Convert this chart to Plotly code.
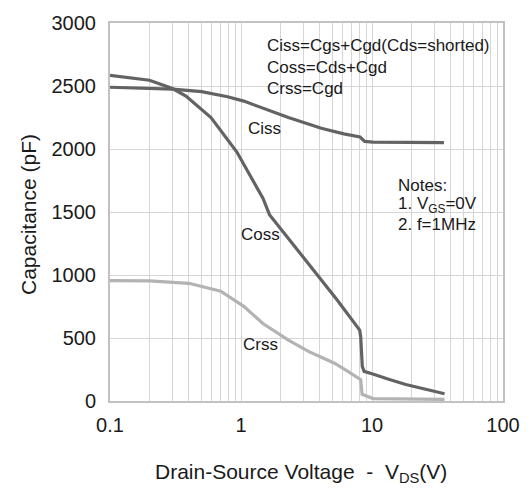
import plotly.graph_objects as go

# ---- data ----
vds_ciss = [0.1, 0.2, 0.3, 0.5, 0.79, 1.05, 1.65, 2.3, 4.1, 6.1, 8.1, 8.8, 10.2, 35.4]
ciss = [2490, 2480, 2475, 2455, 2415, 2380, 2305, 2250, 2165, 2120, 2095, 2060, 2055, 2050]

vds_coss = [0.1, 0.2, 0.3, 0.38, 0.59, 0.93, 1.47, 1.65, 5.46, 8.05, 8.2, 8.43, 8.7, 10, 13.6, 18.1, 35.8]
coss = [2585, 2546, 2480, 2420, 2250, 1976, 1609, 1479, 798, 563, 510, 275, 235, 217, 170, 131, 58]

vds_crss = [0.1, 0.2, 0.4, 0.7, 1.05, 1.47, 2.3, 3.3, 4.35, 5.17, 6.1, 7.48, 7.9, 8.2, 8.4, 10.2, 35.8]
crss = [955, 953, 934, 871, 751, 615, 484, 392, 335, 300, 255, 196, 184, 170, 53, 19, 13]

x_tickvals = [0.1, 1, 10, 100]
x_ticktext = ["0.1", "1", "10", "100"]
x_minorvals = [0.2, 0.3, 0.4, 0.5, 0.6, 0.7, 0.8, 0.9,
               2, 3, 4, 5, 6, 7, 8, 9,
               20, 30, 40, 50, 60, 70, 80, 90]
y_tickvals = [0, 500, 1000, 1500, 2000, 2500, 3000]

DARK = "#636363"
LIGHT = "#b3b3b3"
FONT = "Liberation Sans, Arial, sans-serif"

fig = go.Figure()
fig.add_trace(go.Scatter(x=vds_ciss, y=ciss, mode="lines", line=dict(color=DARK, width=3.2), showlegend=False))
fig.add_trace(go.Scatter(x=vds_coss, y=coss, mode="lines", line=dict(color=DARK, width=3.2), showlegend=False))
fig.add_trace(go.Scatter(x=vds_crss, y=crss, mode="lines", line=dict(color=LIGHT, width=3.2), showlegend=False))

L, R, T, B = 110, 19, 19, 90
W, H = 532, 491
pw, ph = W - L - R, H - T - B


def px(x):
    return (x - L) / pw


def py(y):
    return (H - B - y) / ph


shapes = [
    dict(type="rect", xref="paper", yref="paper", x0=px(256), x1=px(505), y0=py(100), y1=py(23),
         fillcolor="white", line=dict(width=0), layer="between"),
    dict(type="rect", xref="paper", yref="paper", x0=px(395), x1=px(505), y0=py(240), y1=py(173),
         fillcolor="white", line=dict(width=0), layer="between"),
]

ann = []


def text(x, y, s, size=17, anchor="left", angle=0):
    ann.append(dict(xref="paper", yref="paper", x=px(x), y=py(y), text=s, showarrow=False,
                    xanchor=anchor, yanchor="middle", textangle=angle,
                    font=dict(family=FONT, size=size, color="#1a1a1a")))


text(269, 42, "Ciss=Cgs+Cgd(Cds=shorted)")
text(269, 64, "Coss=Cds+Cgd")
text(269, 85, "Crss=Cgd")
text(403, 183, "Notes:")
text(403, 203, "1. V<sub>GS</sub>=0V")
text(403, 223, "2. f=1MHz")
text(268, 126, "Ciss", anchor="center")
text(264, 233, "Coss", anchor="center")
text(264, 344, "Crss", anchor="center")
text(306, 474, "Drain-Source Voltage\u00a0\u00a0-\u00a0\u00a0V<sub>DS</sub>(V)", size=21, anchor="center")
text(27, 213, "Capacitance (pF)", size=21, anchor="center", angle=-90)

fig.update_layout(
    width=W, height=H,
    margin=dict(l=L, r=R, t=T, b=B),
    paper_bgcolor="white", plot_bgcolor="white",
    shapes=shapes, annotations=ann,
    font=dict(family=FONT, color="#1a1a1a"),
)
fig.update_xaxes(type="log", range=[-1, 2], tickvals=x_tickvals, ticktext=x_ticktext,
                 showgrid=True, gridcolor="#d6d6d6", gridwidth=1,
                 minor=dict(tickvals=x_minorvals, showgrid=True, gridcolor="#d6d6d6", gridwidth=1, ticks=""),
                 showline=True, linecolor="#c2c2c2", linewidth=2, mirror=True,
                 ticks="", tickfont=dict(size=20, family=FONT, color="#1a1a1a"),
                 ticklabelstandoff=5, zeroline=False)
fig.update_yaxes(range=[0, 3000], tickvals=y_tickvals,
                 showgrid=True, gridcolor="#d6d6d6", gridwidth=1,
                 showline=True, linecolor="#c2c2c2", linewidth=2, mirror=True,
                 ticks="", tickfont=dict(size=20, family=FONT, color="#1a1a1a"),
                 ticklabelstandoff=8, zeroline=False)

fig.write_html("out.html")
